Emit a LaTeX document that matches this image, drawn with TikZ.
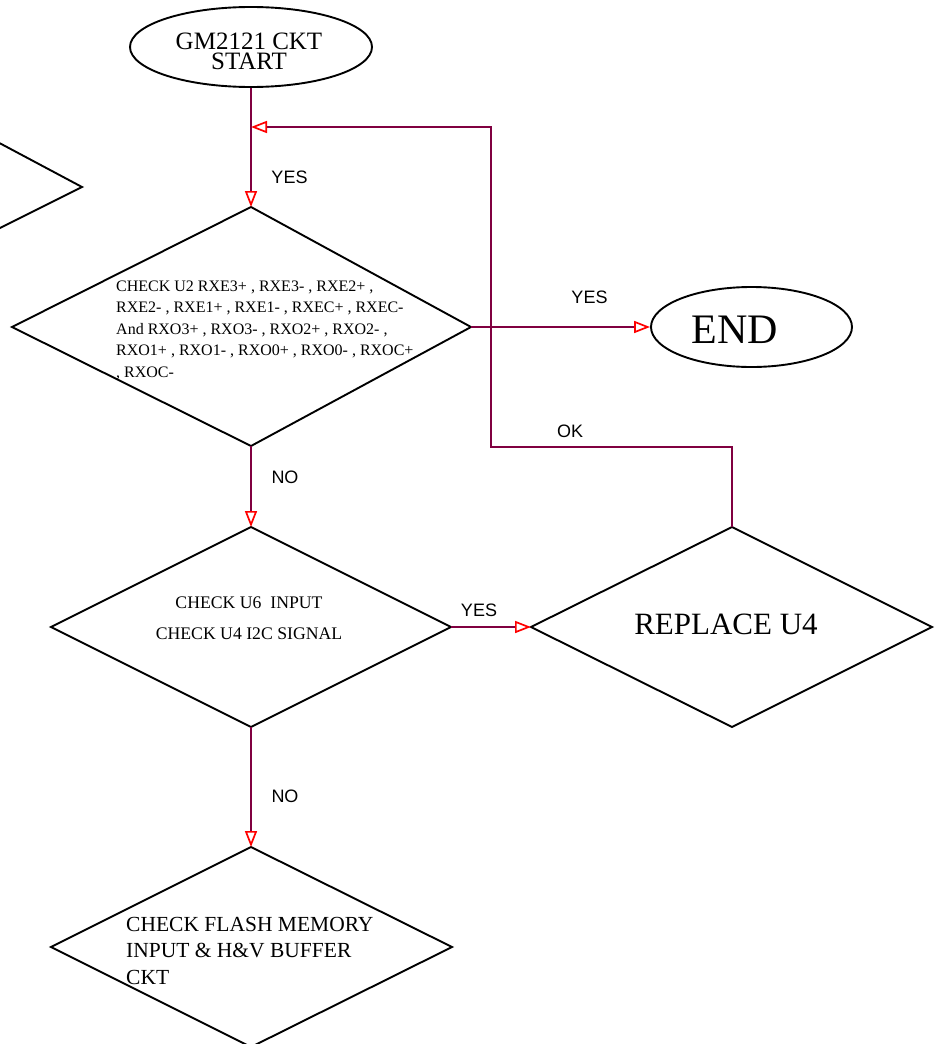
\documentclass[tikz,border=0pt]{standalone}
\usepackage{fontspec}
\setmainfont{Liberation Serif}
\setsansfont{Liberation Sans}
\usetikzlibrary{arrows.meta,shapes.geometric}
\definecolor{connc}{RGB}{128,0,64}
\begin{document}
\begin{tikzpicture}[x=1pt,y=-1pt,
  outline/.style={draw=black, line width=1.9pt, line join=miter},
  term/.style={outline, ellipse, inner sep=0pt},
  conn/.style={draw=connc, line width=1.7pt,
    -{Triangle[open,length=16pt,width=12pt,color=red,line width=1.7pt]}},
  lab/.style={font=\fontsize{18}{20}\selectfont\sffamily, inner sep=0pt},
  txt/.style={inner sep=0pt}]
\useasboundingbox (0,0) rectangle (938,1044);
\fill[white] (0,0) rectangle (938,1044);

% partial shape at top left
\draw[outline] (-10,138) -- (82,187) -- (-10,233);

% terminals
\node[term, minimum width=242pt, minimum height=80pt] (start) at (251,47) {};
\node[txt, align=center, font=\fontsize{25}{20}\selectfont] (starttxt) at (249,51) {GM2121 CKT\\START};
\node[term, minimum width=201pt, minimum height=80pt] (endn) at (751.5,327) {};
\node[txt, font=\fontsize{42}{44}\selectfont] (endtxt) at (735,330) {END};

% diamond 1
\coordinate (d1n) at (251,207);
\coordinate (d1e) at (471,327);
\coordinate (d1s) at (251,446);
\coordinate (d1w) at (12,327);
\draw[outline] (d1n) -- (d1e) -- (d1s) -- (d1w) -- cycle;
\node[txt, anchor=north west, align=left, font=\fontsize{16}{21.5}\selectfont] (d1txt) at (116,280.5)
 {CHECK U2 RXE3+ , RXE3- , RXE2+ ,\\RXE2- , RXE1+ , RXE1- , RXEC+ , RXEC-\\And RXO3+ , RXO3- , RXO2+ , RXO2- ,\\RXO1+ , RXO1- , RXO0+ , RXO0- , RXOC+\\, RXOC-};

% diamond 2
\coordinate (d2n) at (251,527);
\coordinate (d2e) at (451,627);
\coordinate (d2s) at (251,727);
\coordinate (d2w) at (51,627);
\draw[outline] (d2n) -- (d2e) -- (d2s) -- (d2w) -- cycle;
\node[txt, align=center, font=\fontsize{17.7}{31}\selectfont] (d2txt) at (249,618.5)
 {CHECK U6\ \ INPUT\\CHECK U4 I2C SIGNAL};

% replace diamond
\coordinate (rn) at (732,527);
\coordinate (re) at (932,627);
\coordinate (rs) at (732,727);
\coordinate (rw) at (531,627);
\draw[outline] (rn) -- (re) -- (rs) -- (rw) -- cycle;
\node[txt, font=\fontsize{31}{33}\selectfont] (rtxt) at (726,624) {REPLACE U4};

% diamond 3
\coordinate (d3n) at (251,847);
\coordinate (d3e) at (452,947);
\coordinate (d3s) at (251,1047);
\coordinate (d3w) at (51,947);
\draw[outline] (d3n) -- (d3e) -- (d3s) -- (d3w) -- cycle;
\node[txt, anchor=north west, align=left, font=\fontsize{21.5}{26.5}\selectfont] (d3txt) at (126,916.8)
 {CHECK FLASH MEMORY\\INPUT \& H\&V BUFFER\\CKT};

% connectors
\coordinate (merge) at (251,127);
\coordinate (okc) at (491,447);
\draw[conn] (start.south) -- (d1n);
\draw[conn] (rn) |- (okc) |- (merge);
\draw[conn] (d1e) -- (endn.west);
\draw[conn] (d1s) -- (d2n);
\draw[conn] (d2e) -- (rw);
\draw[conn] (d2s) -- (d3n);

% labels
\node[lab] (l1) at (289.5,177) {YES};
\node[lab] (l2) at (589.5,297) {YES};
\node[lab] (l3) at (570,431) {OK};
\node[lab] (l4) at (285,477) {NO};
\node[lab] (l5) at (479,610) {YES};
\node[lab] (l6) at (285,796) {NO};
\end{tikzpicture}
\end{document}
